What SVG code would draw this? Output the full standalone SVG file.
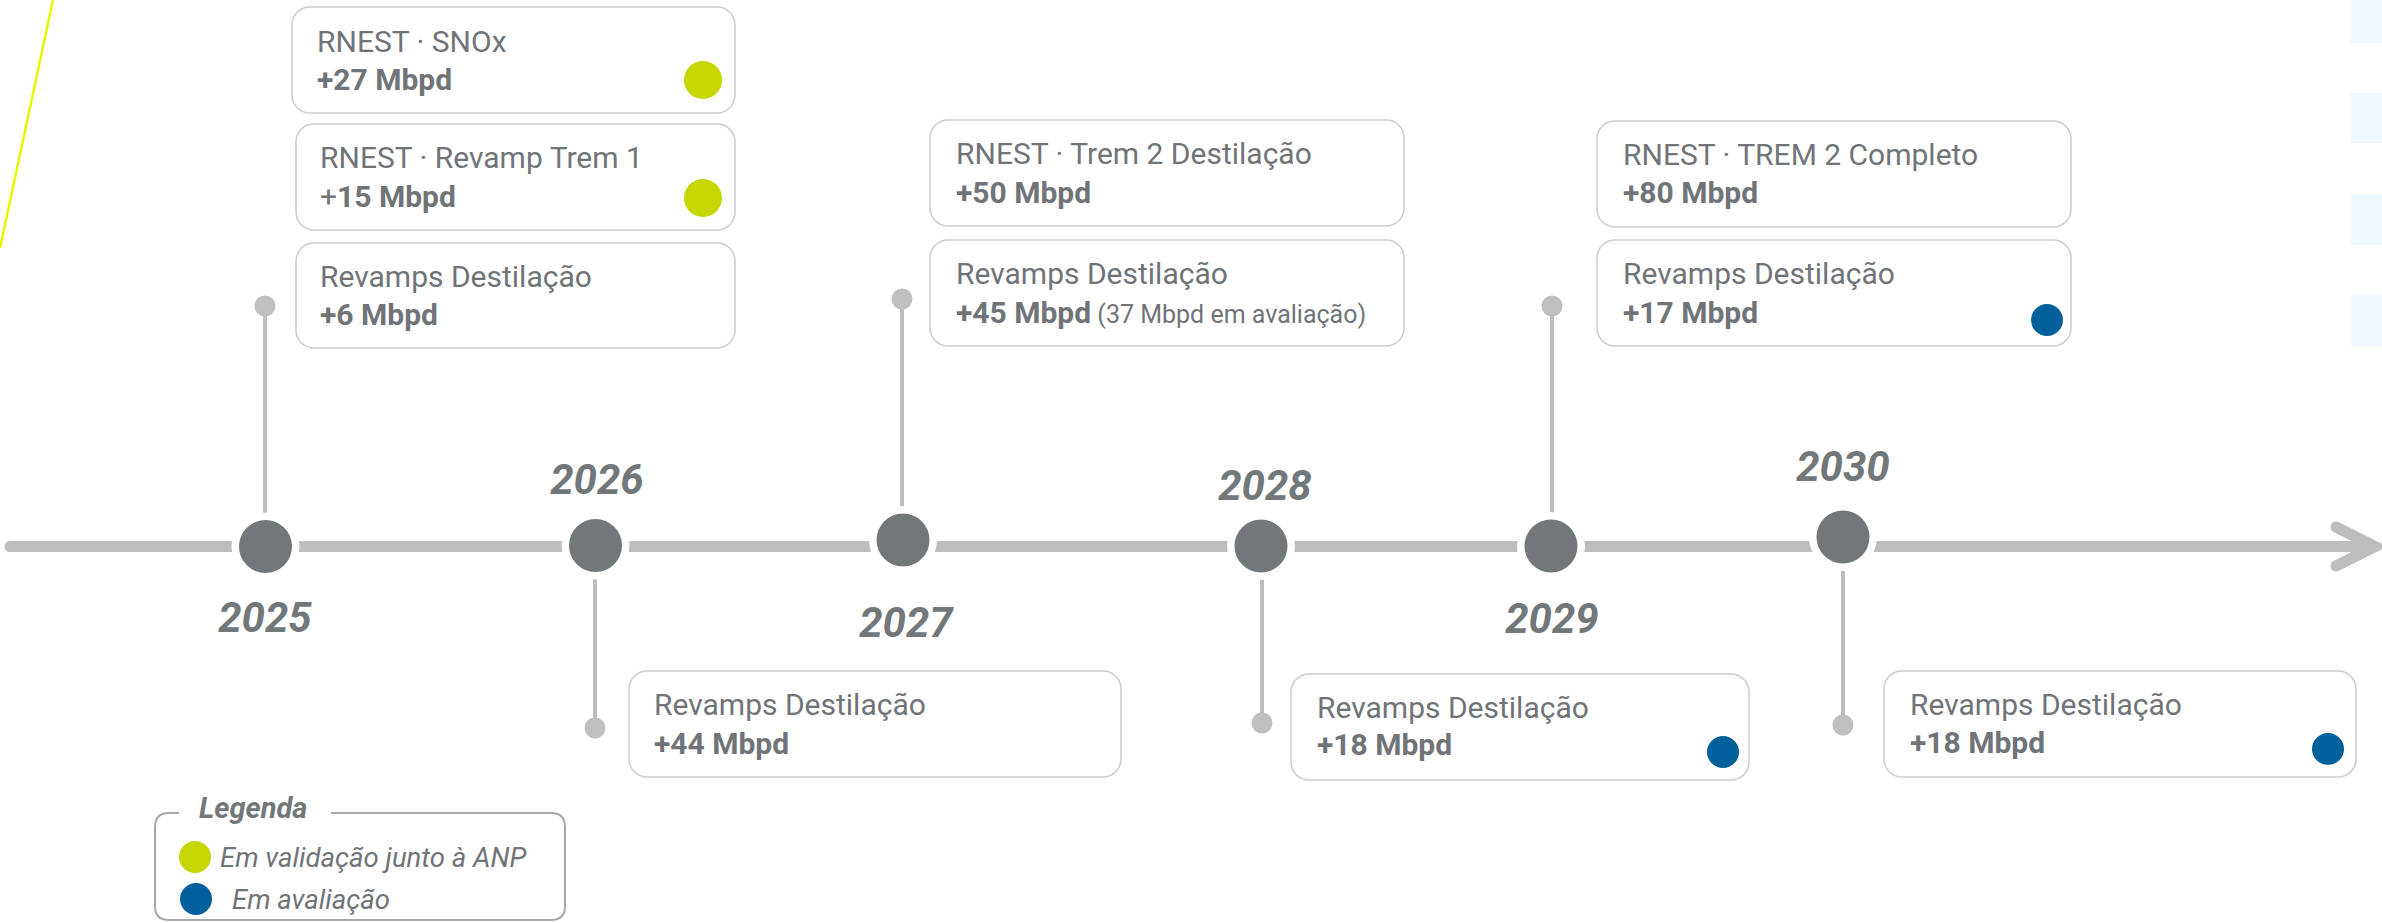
<svg xmlns="http://www.w3.org/2000/svg" width="2382" height="923" viewBox="0 0 2382 923">
<style>
.box{fill:#ffffff;stroke:#cccccc;stroke-width:1.5}
.t{font-family:Roboto,"Liberation Sans",sans-serif;font-size:30px;font-weight:400;fill:#707478}
.b{font-family:Roboto,"Liberation Sans",sans-serif;font-size:30px;font-weight:700;fill:#707478}
.s{font-family:Roboto,"Liberation Sans",sans-serif;font-size:25px;font-weight:400;fill:#707478}
.yr{font-family:Roboto,"Liberation Sans",sans-serif;font-size:42px;font-weight:700;font-style:italic;fill:#72777a;text-anchor:middle}
.leg{font-family:Roboto,"Liberation Sans",sans-serif;font-size:27.5px;font-weight:400;font-style:italic;fill:#707478}
.green{fill:#c5d600}
.blue{fill:#00609c}
.conn{stroke:#bdbdbd;stroke-width:4;fill:none}
.cdot{fill:#bfbfbf}
.ring{fill:#ffffff}
.main{fill:#72777a}
.pale{fill:#eef8fd}
</style>
<rect class="pale" x="2351" y="0" width="31" height="43"/>
<rect class="pale" x="2351" y="93" width="31" height="50"/>
<rect class="pale" x="2351" y="194" width="31" height="51"/>
<rect class="pale" x="2351" y="295" width="31" height="51"/>
<line x1="53" y1="0" x2="0" y2="248" stroke="#e6f800" stroke-width="2.5"/>
<g id="axis">
<line x1="10" y1="546.5" x2="2370" y2="546.5" stroke="#bdbdbd" stroke-width="11" stroke-linecap="round"/>
<polyline points="2336,527 2375,546.5 2336,566" fill="none" stroke="#bdbdbd" stroke-width="11" stroke-linecap="round" stroke-linejoin="miter"/>
</g>
<g id="connectors">
<line class="conn" x1="265" y1="306" x2="265" y2="546"/>
<circle class="cdot" cx="265" cy="306" r="10.5"/>
<line class="conn" x1="595" y1="546" x2="595" y2="728"/>
<circle class="cdot" cx="595" cy="728" r="10.5"/>
<line class="conn" x1="902" y1="299" x2="902" y2="540"/>
<circle class="cdot" cx="902" cy="299" r="10.5"/>
<line class="conn" x1="1262" y1="546" x2="1262" y2="723"/>
<circle class="cdot" cx="1262" cy="723" r="10.5"/>
<line class="conn" x1="1552" y1="306" x2="1552" y2="546"/>
<circle class="cdot" cx="1552" cy="306" r="10.5"/>
<line class="conn" x1="1843" y1="537" x2="1843" y2="725"/>
<circle class="cdot" cx="1843" cy="725" r="10.5"/>
</g>
<g id="y2025"><circle class="ring" cx="265.5" cy="546.5" r="34"/><circle class="main" cx="265.5" cy="546.5" r="26.5"/><text class="yr" x="265" y="632">2025</text></g>
<g id="y2026"><circle class="ring" cx="595.5" cy="545.5" r="34"/><circle class="main" cx="595.5" cy="545.5" r="26.5"/><text class="yr" x="597" y="494">2026</text></g>
<g id="y2027"><circle class="ring" cx="903" cy="540" r="34"/><circle class="main" cx="903" cy="540" r="26.5"/><text class="yr" x="906" y="637">2027</text></g>
<g id="y2028"><circle class="ring" cx="1261" cy="546" r="34"/><circle class="main" cx="1261" cy="546" r="26.5"/><text class="yr" x="1265" y="500">2028</text></g>
<g id="y2029"><circle class="ring" cx="1551" cy="546" r="34"/><circle class="main" cx="1551" cy="546" r="26.5"/><text class="yr" x="1552" y="633">2029</text></g>
<g id="y2030"><circle class="ring" cx="1843" cy="537" r="34"/><circle class="main" cx="1843" cy="537" r="26.5"/><text class="yr" x="1843" y="481">2030</text></g>
<g id="box1"><rect class="box" x="292" y="7" width="443" height="106" rx="18"/><text class="t" x="317" y="52">RNEST · SNOx</text><text class="b" x="317" y="90">+27 Mbpd</text><circle class="green" cx="703" cy="80" r="19"/></g>
<g id="box2"><rect class="box" x="296" y="124" width="439" height="106" rx="18"/><text class="t" x="320" y="168">RNEST · Revamp Trem 1</text><text class="b" x="320" y="207"><tspan font-weight="400">+</tspan>15 Mbpd</text><circle class="green" cx="703" cy="198" r="19"/></g>
<g id="box3"><rect class="box" x="296" y="243" width="439" height="105" rx="18"/><text class="t" x="320" y="287">Revamps Destilação</text><text class="b" x="320" y="325">+6 Mbpd</text></g>
<g id="box4"><rect class="box" x="930" y="120" width="474" height="106" rx="18"/><text class="t" x="956" y="164">RNEST · Trem 2 Destilação</text><text class="b" x="956" y="203">+50 Mbpd</text></g>
<g id="box5"><rect class="box" x="930" y="240" width="474" height="106" rx="18"/><text class="t" x="956" y="284">Revamps Destilação</text><text class="b" x="956" y="323">+45 Mbpd<tspan class="s" font-weight="400"> (37 Mbpd em avaliação)</tspan></text></g>
<g id="box6"><rect class="box" x="1597" y="121" width="474" height="106" rx="18"/><text class="t" x="1623" y="165">RNEST · TREM 2 Completo</text><text class="b" x="1623" y="203">+80 Mbpd</text></g>
<g id="box7"><rect class="box" x="1597" y="240" width="474" height="106" rx="18"/><text class="t" x="1623" y="284">Revamps Destilação</text><text class="b" x="1623" y="323">+17 Mbpd</text><circle class="blue" cx="2047" cy="320" r="16"/></g>
<g id="box8"><rect class="box" x="629" y="671" width="492" height="106" rx="18"/><text class="t" x="654" y="715">Revamps Destilação</text><text class="b" x="654" y="754">+44 Mbpd</text></g>
<g id="box9"><rect class="box" x="1291" y="674" width="458" height="106" rx="18"/><text class="t" x="1317" y="718">Revamps Destilação</text><text class="b" x="1317" y="755">+18 Mbpd</text><circle class="blue" cx="1723" cy="752" r="16"/></g>
<g id="box10"><rect class="box" x="1884" y="671" width="472" height="106" rx="18"/><text class="t" x="1910" y="715">Revamps Destilação</text><text class="b" x="1910" y="753">+18 Mbpd</text><circle class="blue" cx="2328" cy="749" r="16"/></g>
<g id="legend">
<path d="M179,813 H169 Q155,813 155,827 V906 Q155,920 169,920 H551 Q565,920 565,906 V827 Q565,813 551,813 H331" fill="none" stroke="#a8a8a8" stroke-width="2"/>
<text x="199" y="818" font-family="Roboto,'Liberation Sans',sans-serif" font-size="29" font-weight="700" font-style="italic" fill="#72777a">Legenda</text>
<circle class="green" cx="195" cy="857" r="16"/>
<text class="leg" x="220" y="867">Em validação junto à ANP</text>
<circle class="blue" cx="196" cy="899" r="16"/>
<text class="leg" x="232" y="909">Em avaliação</text>
</g>
</svg>
